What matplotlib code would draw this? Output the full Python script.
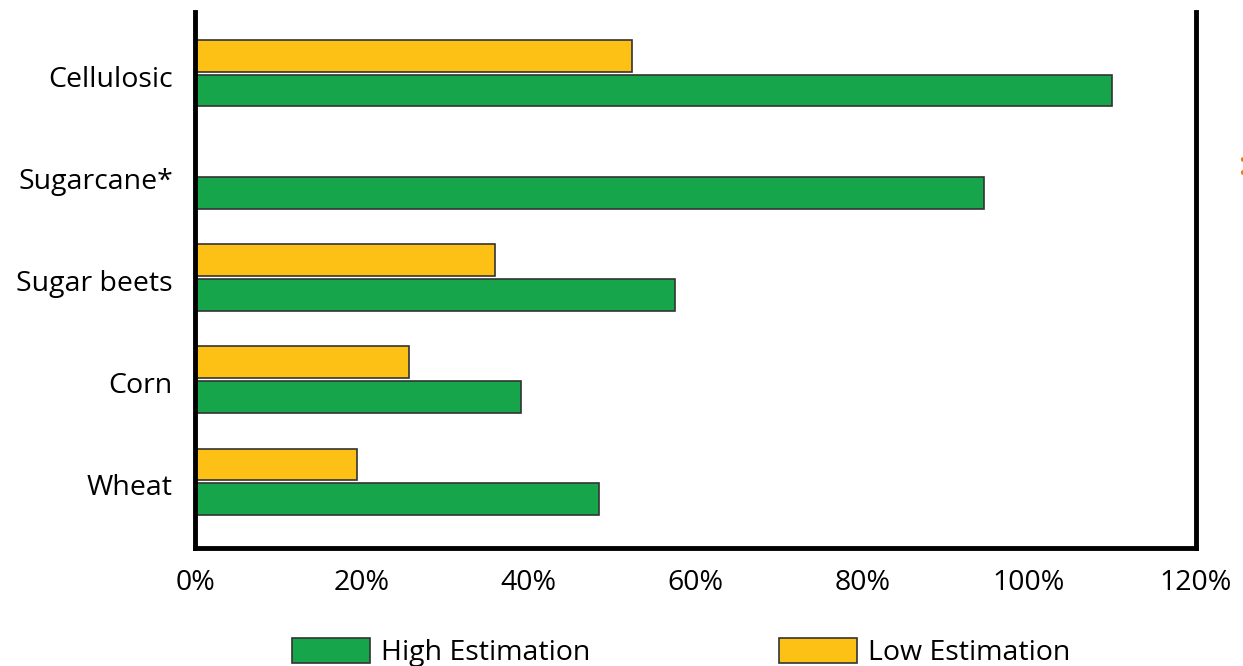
import matplotlib
matplotlib.use("Agg")
import matplotlib.pyplot as plt
import numpy as np

# データ (読み取り値, %)
crops = ["Wheat", "Corn", "Sugar beets", "Sugarcane*", "Cellulosic"]
high_est = [48.4, 39.1, 57.6, 94.6, 110.0]
low_est = [19.4, 25.6, 35.9, 0, 52.4]
xticks = [0, 20, 40, 60, 80, 100, 120]

green = "#17a54b"
yellow = "#fdc014"

plt.rcParams["font.family"] = ["Open Sans", "DejaVu Sans"]

fig = plt.figure(figsize=(12.43, 6.66), dpi=100)
ax = fig.add_axes([0.157, 0.177, 0.805, 0.805])

y = np.arange(len(crops))
h = 0.31
ax.barh(y - 0.17, high_est, height=h, color=green, edgecolor="#333333", linewidth=1.2,
        label="High Estimation")
# Sugarcane は low なし
low_y = [yy + 0.17 for yy, v in zip(y, low_est) if v > 0]
low_v = [v for v in low_est if v > 0]
ax.barh(low_y, low_v, height=h, color=yellow, edgecolor="#333333", linewidth=1.2,
        label="Low Estimation")

ax.set_xlim(0, 120)
ax.set_ylim(-0.65, 4.6)
ax.set_yticks(y - 0.03)
ax.set_yticklabels(crops, fontsize=20.5)
ax.set_xticks(xticks)
ax.set_xticklabels([f"{t}%" for t in xticks], fontsize=20.5)
ax.tick_params(axis="x", length=0, pad=15)
ax.tick_params(axis="y", length=0, pad=16)

for s in ["left", "right", "bottom"]:
    ax.spines[s].set_linewidth(3.5)
    ax.spines[s].set_color("black")
ax.spines["top"].set_visible(False)

handles, labels = ax.get_legend_handles_labels()
fig.legend(handles, labels, loc="center", bbox_to_anchor=(0.548, 0.02), ncol=2,
           frameon=False, fontsize=20.5, handlelength=2.75, handleheight=1.0,
           handletextpad=0.4, columnspacing=6.6)

# 右端の切れた文字
fig.text(0.996, 0.75, ":", color="#f07810", fontsize=24, fontweight="bold",
         ha="left", va="center")

fig.savefig("out.png", dpi=100)
plt.close(fig)
